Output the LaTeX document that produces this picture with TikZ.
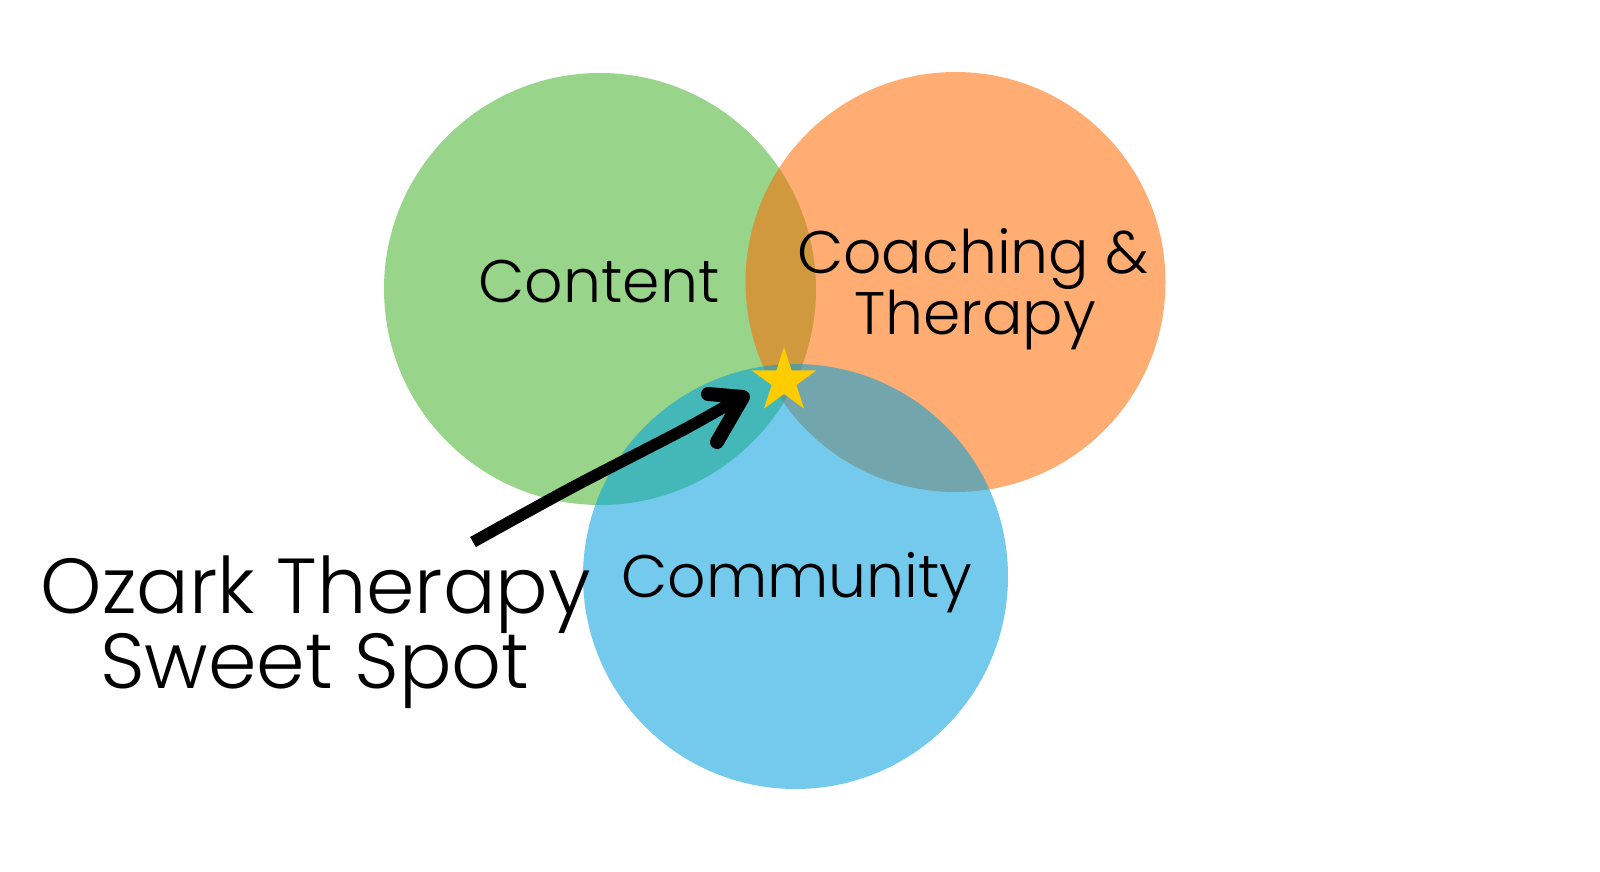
\documentclass[tikz,border=0pt]{standalone}
\usepackage{fontspec}
\setmainfont{Poppins Light}
\usetikzlibrary{shapes.geometric}
\definecolor{cgreen}{RGB}{152,212,138}
\definecolor{corange}{RGB}{255,106,0}
\definecolor{cblue}{RGB}{0,160,222}
\definecolor{cstar}{RGB}{255,204,0}
\begin{document}
\begin{tikzpicture}[x=0.5pt,y=-0.5pt,
  label/.style={anchor=base, inner sep=0pt, text=black, font=\fontsize{30}{36}\selectfont},
  biglabel/.style={anchor=base, inner sep=0pt, text=black, font=\fontsize{39}{48}\selectfont},
  shaft/.style={line width=5.8pt, line cap=butt, line join=round},
  head/.style={line width=7pt, line cap=round, line join=round}]
\useasboundingbox (0,0) rectangle (1600,872);
\fill[white] (0,0) rectangle (1600,872);
% circles
\fill[cgreen] (600,289) circle[radius=216];
\fill[corange, fill opacity=0.55] (955.5,282) circle[radius=210];
\fill[cblue, fill opacity=0.55] (795.5,576.5) circle[radius=212.5];
% star
\node[star, star points=5, star point ratio=2.618, minimum size=34pt, inner sep=0pt, fill=cstar] (sweetstar) at (784,381) {};
% arrow
\coordinate (tail) at (473,542);
\coordinate (m1) at (573,487);
\coordinate (m2) at (683,430);
\coordinate (send) at (738,399);
\coordinate (h1) at (708,394);
\coordinate (tip) at (743,397);
\coordinate (h2) at (717,442);
\draw[shaft] plot[smooth, tension=0.5] coordinates {(tail) (m1) (m2) (send)};
\draw[head] (h1) -- (tip) -- (h2);
% labels
\node[label] (content) at (599,302) {Content};
\node[label] (coach1) at (973,273) {Coaching \&};
\node[label] (coach2) at (975,334) {Therapy};
\node[label] (community) at (797,597) {Community};
\node[biglabel] (ozark1) at (316,613) {Ozark Therapy};
\node[biglabel] (ozark2) at (315,688) {Sweet Spot};
\end{tikzpicture}
\end{document}
